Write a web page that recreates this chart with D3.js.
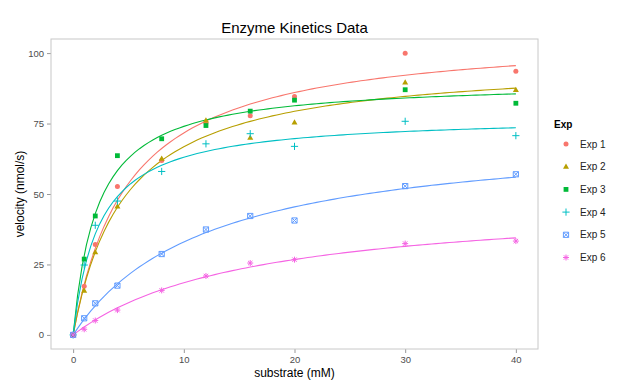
<!DOCTYPE html>
<html><head><meta charset="utf-8">
<script src="https://cdn.jsdelivr.net/npm/d3@7"></script>
<style>
html,body{margin:0;padding:0;background:#fff;}
text{font-family:"Liberation Sans",Arial,sans-serif;}
</style></head>
<body><svg id="chart" width="640" height="391"></svg>
<script>
// ---- data ----
const substrate = [0, 1, 2, 4, 8, 12, 16, 20, 30, 40];
const experiments = ["Exp 1", "Exp 2", "Exp 3", "Exp 4", "Exp 5", "Exp 6"];
const exp1 = [0, 17.3, 32.1, 52.7, 61.9, 75.2, 77.8, 84.6, 99.9, 93.6];
const exp2 = [0, 15.7, 29.3, 45.6, 62.5, 76.1, 70.0, 75.4, 89.6, 86.9];
const exp3 = [0, 26.9, 42.2, 63.6, 69.6, 74.3, 79.4, 83.3, 87.0, 82.2];
const exp4 = [0, 24.8, 38.9, 47.5, 58.0, 67.8, 71.4, 66.9, 75.8, 70.7];
const exp5 = [0, 5.9, 11.2, 17.5, 28.7, 37.4, 42.2, 40.6, 52.8, 57.0];
const exp6 = [0, 2.0, 5.1, 8.8, 15.8, 20.9, 25.5, 26.7, 32.4, 33.3];
// Michaelis-Menten fit parameters per experiment (Vmax, Km)
const vmax = [107.5, 97.7, 90.2, 77.8, 72.9, 48.3];
const km = [5.0, 4.63, 2.19, 2.34, 12.1, 16.1];
const xTicks = [0, 10, 20, 30, 40];
const yTicks = [0, 25, 50, 75, 100];
const colors = ["#F8766D", "#B79F00", "#00BA38", "#00BFC4", "#619CFF", "#F564E3"];
const series = [exp1, exp2, exp3, exp4, exp5, exp6];

const svg = d3.select("#chart");
const P = {l: 51, r: 538, t: 39, b: 349};
const x = d3.scaleLinear().domain([-2, 42]).range([P.l, P.r]);
const y = d3.scaleLinear().domain([-5, 105]).range([P.b, P.t]);

// title
svg.append("text").attr("x", (P.l + P.r) / 2).attr("y", 33).attr("text-anchor", "middle")
  .attr("font-size", 15).attr("fill", "#000").text("Enzyme Kinetics Data");

// axes
const gx = svg.append("g").attr("transform", `translate(0,${P.b})`)
  .call(d3.axisBottom(x).tickValues(xTicks).tickSize(4).tickPadding(3).tickSizeOuter(0));
const gy = svg.append("g").attr("transform", `translate(${P.l},0)`)
  .call(d3.axisLeft(y).tickValues(yTicks).tickSize(4).tickPadding(3).tickSizeOuter(0));
[gx, gy].forEach(g => {
  g.select(".domain").remove();
  g.selectAll(".tick line").attr("stroke", "#999");
  g.selectAll(".tick text").attr("fill", "#4d4d4d").attr("font-size", 9.5)
    .attr("font-family", "'Liberation Sans',Arial,sans-serif");
});

// panel border
svg.append("rect").attr("x", P.l).attr("y", P.t).attr("width", P.r - P.l).attr("height", P.b - P.t)
  .attr("fill", "none").attr("stroke", "#c8c8c8").attr("stroke-width", 1);

// axis titles
svg.append("text").attr("x", (P.l + P.r) / 2).attr("y", 377).attr("text-anchor", "middle")
  .attr("font-size", 12).text("substrate (mM)");
svg.append("text").attr("transform", `translate(20,${(P.t + P.b) / 2}) rotate(-90)`)
  .attr("text-anchor", "middle").attr("dy", "0.35em").attr("font-size", 12).text("velocity (nmol/s)");

// shapes (ggplot 16,17,15,3,7,8)
function shape(g, i, cx, cy, col) {
  const s = 2.6;
  if (i === 0) g.append("circle").attr("cx", cx).attr("cy", cy).attr("r", 2.5).attr("fill", col);
  else if (i === 1) g.append("path").attr("d", `M${cx},${cy - 3.2}L${cx + 3},${cy + 2}L${cx - 3},${cy + 2}Z`).attr("fill", col);
  else if (i === 2) g.append("rect").attr("x", cx - 2.4).attr("y", cy - 2.4).attr("width", 4.8).attr("height", 4.8).attr("fill", col);
  else if (i === 3) g.append("path").attr("d", `M${cx - 3.6},${cy}H${cx + 3.6}M${cx},${cy - 3.6}V${cy + 3.6}`).attr("stroke", col).attr("stroke-width", 1).attr("fill", "none");
  else if (i === 4) g.append("path").attr("d", `M${cx - s},${cy - s}H${cx + s}V${cy + s}H${cx - s}ZM${cx - s},${cy - s}L${cx + s},${cy + s}M${cx + s},${cy - s}L${cx - s},${cy + s}`).attr("stroke", col).attr("stroke-width", 1).attr("fill", "none");
  else {
    const a = 3, d = 2.2;
    g.append("path").attr("d", `M${cx - a},${cy}H${cx + a}M${cx},${cy - a}V${cy + a}M${cx - d},${cy - d}L${cx + d},${cy + d}M${cx + d},${cy - d}L${cx - d},${cy + d}`).attr("stroke", col).attr("stroke-width", 1).attr("fill", "none");
  }
}

// fitted curves
const sGrid = d3.range(0, 40.0001, 0.4);
const line = d3.line().x(d => x(d[0])).y(d => y(d[1]));
const plot = svg.append("g");
series.forEach((vals, i) => {
  const pts = sGrid.map(s => [s, vmax[i] * s / (km[i] + s)]);
  plot.append("path").attr("d", line(pts)).attr("fill", "none").attr("stroke", colors[i]).attr("stroke-width", 1.1);
});
// points
series.forEach((vals, i) => {
  const g = plot.append("g");
  vals.forEach((v, j) => shape(g, i, x(substrate[j]), y(v), colors[i]));
});

// legend
const lg = svg.append("g");
lg.append("text").attr("x", 554).attr("y", 128).attr("font-size", 10).attr("font-weight", "bold").text("Exp");
experiments.forEach((name, i) => {
  const cy = 144 + i * 22.7;
  shape(lg, i, 566, cy, colors[i]);
  lg.append("text").attr("x", 580).attr("y", cy).attr("dy", "0.35em").attr("font-size", 10).attr("fill", "#222").text(name);
});
</script></body></html>
